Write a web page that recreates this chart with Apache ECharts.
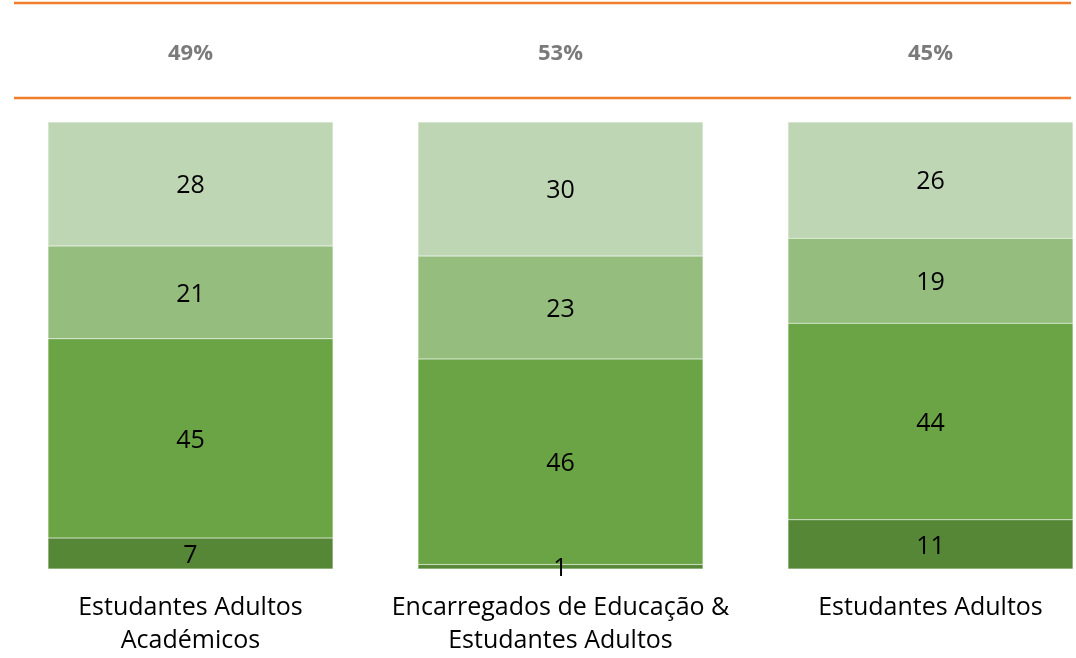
<!DOCTYPE html>
<html>
<head>
<meta charset="utf-8">
<script src="https://cdn.jsdelivr.net/npm/echarts@6/dist/echarts.min.js"></script>
<style>
  html, body { margin: 0; padding: 0; background: #fff; }
  #chart { width: 1076px; height: 658px; }
</style>
</head>
<body>
<div id="chart"></div>
<script>
const categories = ['Estudantes Adultos\nAcadémicos', 'Encarregados de Educação &\nEstudantes Adultos', 'Estudantes Adultos']
const topPercent = [49, 53, 45]
const seg1 = [7, 1, 11]
const seg2 = [45, 46, 44]
const seg3 = [21, 23, 19]
const seg4 = [28, 30, 26]

const segColors = ['#568737', '#6ba445', '#94bd7e', '#bed6b3']
const allSegs = [seg1, seg2, seg3, seg4]

// each bar is scaled to 100% of its own total
const totals = categories.map((c, i) => allSegs.reduce((s, arr) => s + arr[i], 0))

const fontFam = 'Open Sans'

const renderChart = () => {
  var myChart = echarts.init(document.getElementById('chart'))

  const barSeries = allSegs.map((arr, k) => ({
    type: 'bar',
    stack: 'total',
    xAxisIndex: 0,
    yAxisIndex: 0,
    barWidth: 285,
    data: arr.map((v, i) => ({ value: v / totals[i] * 100, raw: v })),
    itemStyle: { color: segColors[k], borderColor: 'rgba(255,255,255,0.35)', borderWidth: 0.5 },
    label: {
      show: true,
      position: 'inside',
      color: '#000',
      fontFamily: fontFam,
      fontSize: 25,
      offset: [0, 2],
      formatter: (p) => p.data.raw
    },
    silent: true
  }))

  const option = {
    animation: false,
    grid: [
      { left: 5.5, width: 1110, top: 122, bottom: 89, outerBoundsMode: 'none' },
      { left: 5.5, width: 1110, top: 3, height: 95, outerBoundsMode: 'none' }
    ],
    xAxis: [
      {
        type: 'category',
        gridIndex: 0,
        data: categories,
        axisLine: { show: false },
        axisTick: { show: false },
        axisLabel: {
          color: '#000',
          fontFamily: fontFam,
          fontSize: 25,
          lineHeight: 33,
          margin: 22,
          interval: 0
        }
      },
      {
        type: 'category',
        gridIndex: 1,
        data: categories,
        axisLine: { show: false },
        axisTick: { show: false },
        axisLabel: { show: false }
      }
    ],
    yAxis: [
      { type: 'value', gridIndex: 0, min: 0, max: 100, show: false },
      { type: 'value', gridIndex: 1, min: 0, max: 1, show: false }
    ],
    graphic: [
      { type: 'line', shape: { x1: 14, y1: 3, x2: 1071, y2: 3 }, style: { stroke: '#f07e2d', lineWidth: 2.5 } },
      { type: 'line', shape: { x1: 14, y1: 98, x2: 1071, y2: 98 }, style: { stroke: '#f07e2d', lineWidth: 2.5 } }
    ],
    series: barSeries.concat([{
      type: 'scatter',
      xAxisIndex: 1,
      yAxisIndex: 1,
      symbolSize: 0,
      data: topPercent.map((v, i) => [i, 0.47, v]),
      label: {
        show: true,
        position: 'inside',
        color: '#595959',
        fontFamily: fontFam,
        fontWeight: 'bold',
        fontSize: 22,
        formatter: (p) => p.data[2] + '%'
      },
      silent: true
    }])
  }

  myChart.setOption(option)
}

document.addEventListener('DOMContentLoaded', function () {
  renderChart()
})
</script>
</body>
</html>
